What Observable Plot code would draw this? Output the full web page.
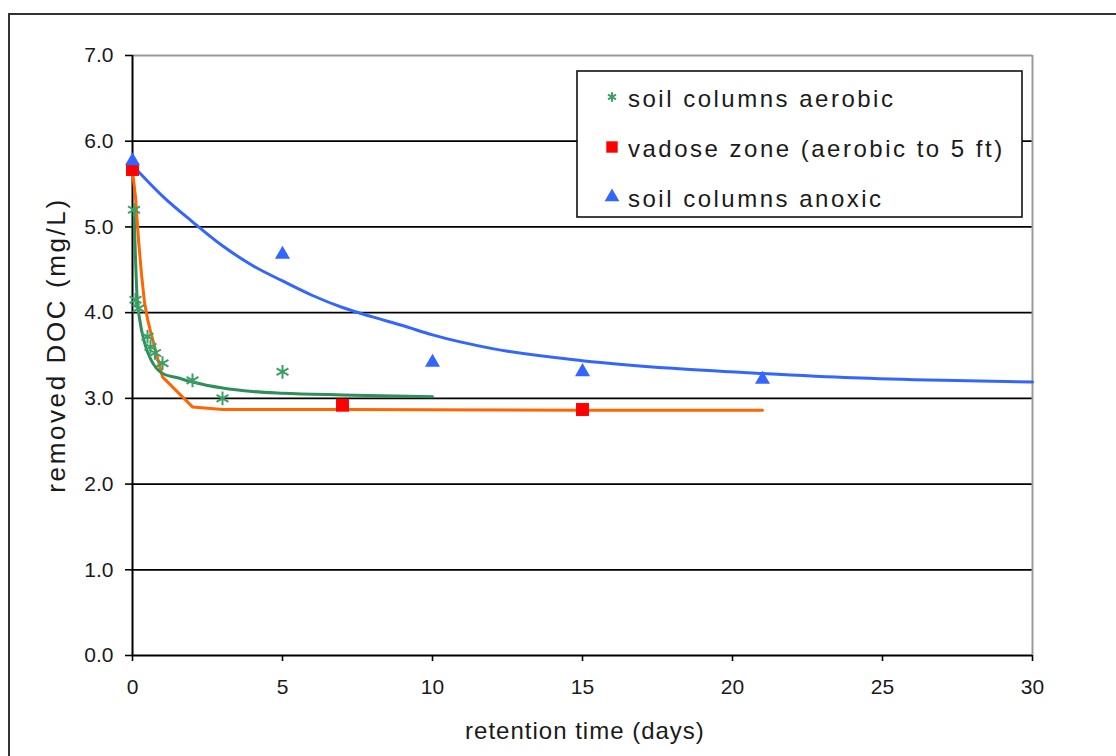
<!DOCTYPE html>
<html>
<head>
<meta charset="utf-8">
<script src="https://cdn.jsdelivr.net/npm/d3@7"></script>
<script src="https://cdn.jsdelivr.net/npm/@observablehq/plot@0.6"></script>
<style>
  html, body { margin: 0; padding: 0; background: #fff; }
  #wrap { position: relative; width: 1116px; height: 756px; overflow: hidden; font-family: "Liberation Sans", Arial, sans-serif; }
  #frame { position: absolute; left: 8px; top: 13px; right: -10px; bottom: -10px; border-top: 2px solid #333; border-left: 2px solid #333; pointer-events: none; }
</style>
</head>
<body>
<div id="wrap"><div id="frame"></div></div>
<script>
// ---- data ----
const xTicks = [0, 5, 10, 15, 20, 25, 30];
const yTicks = [0, 1, 2, 3, 4, 5, 6, 7];
const gridY = [1, 2, 3, 4, 5, 6];

const seriesNames = ["soil columns aerobic", "vadose zone (aerobic to 5 ft)", "soil columns anoxic"];

const aerobicT   = [0.05, 0.1, 0.2, 0.5, 0.6, 0.75, 1, 2, 3, 5];
const aerobicDOC = [5.2, 4.15, 4.05, 3.72, 3.6, 3.53, 3.41, 3.21, 3.0, 3.31];

const vadoseT   = [0, 7, 15];
const vadoseDOC = [5.67, 2.92, 2.87];

const anoxicT   = [0, 5, 10, 15, 21];
const anoxicDOC = [5.77, 4.68, 3.42, 3.31, 3.22];

const aerobicFitT   = [0.05, 0.15, 0.25, 0.4, 0.6, 0.8, 1, 1.5, 2, 3, 4, 5, 7, 10];
const aerobicFitDOC = [5.2, 4.2, 3.9, 3.65, 3.46, 3.35, 3.29, 3.24, 3.19, 3.12, 3.08, 3.06, 3.04, 3.02];

const vadoseFitT   = [0, 0.1, 0.2, 0.3, 0.4, 0.5, 0.6, 0.7, 1, 2, 3, 7, 15, 21];
const vadoseFitDOC = [5.65, 5.35, 4.85, 4.45, 4.12, 3.93, 3.78, 3.65, 3.25, 2.9, 2.87, 2.87, 2.86, 2.86];

const anoxicFitT   = [0, 1, 2, 3, 4, 5, 6, 7, 8, 9, 10, 12, 15, 18, 21, 24, 27, 30];
const anoxicFitDOC = [5.72, 5.36, 5.06, 4.78, 4.55, 4.37, 4.2, 4.06, 3.95, 3.85, 3.74, 3.58, 3.44, 3.35, 3.29, 3.24, 3.21, 3.19];

const xTitle = "retention time (days)";
const yTitle = "removed DOC (mg/L)";

// ---- styles ----
const GREEN_LINE = "#2d8f5a", GREEN_PT = "#3aa066", RED = "#ff0000", ORANGE = "#ff6600", BLUE = "#3366ff";

const zip = (xs, ys) => xs.map((x, i) => ({x, y: ys[i]}));

const chart = Plot.plot({
  width: 1116,
  height: 756,
  marginLeft: 132,
  marginRight: 84,
  marginTop: 55,
  marginBottom: 101,
  x: {domain: [0, 30]},
  y: {domain: [0, 7]},
  style: {fontFamily: "'Liberation Sans', Arial, sans-serif", background: "transparent", overflow: "visible"},
  marks: [
    Plot.ruleY(gridY, {stroke: "#000", strokeWidth: 1.7}),
    Plot.ruleY([7], {stroke: "#9a9a9a", strokeWidth: 2}),
    Plot.ruleX([30], {stroke: "#9a9a9a", strokeWidth: 2}),
    Plot.axisY({ticks: yTicks, tickFormat: d3.format(".1f"), tickSize: 7, tickPadding: 12, fontSize: 21, label: null, stroke: "#000", strokeWidth: 1.6, fill: "#1a1a1a"}),
    Plot.axisX({ticks: xTicks, tickSize: 6, tickPadding: 18, fontSize: 21, label: null, stroke: "#000", strokeWidth: 1.6, fill: "#1a1a1a"}),
    Plot.ruleX([0], {stroke: "#000", strokeWidth: 2}),
    Plot.ruleY([0], {stroke: "#000", strokeWidth: 2}),
    Plot.line(zip(anoxicFitT, anoxicFitDOC), {x: "x", y: "y", stroke: BLUE, strokeWidth: 3, curve: "monotone-x"}),
    Plot.line(zip(vadoseFitT, vadoseFitDOC), {x: "x", y: "y", stroke: ORANGE, strokeWidth: 3, curve: "linear"}),
    Plot.line(zip(aerobicFitT, aerobicFitDOC), {x: "x", y: "y", stroke: GREEN_LINE, strokeWidth: 3, curve: "monotone-x"}),
    Plot.dot(zip(aerobicT, aerobicDOC), {x: "x", y: "y", symbol: "asterisk", stroke: GREEN_PT, strokeWidth: 2, r: 6.5}),
    Plot.dot(zip(vadoseT, vadoseDOC), {x: "x", y: "y", symbol: "square", fill: RED, r: 7.3}),
    Plot.dot(zip(anoxicT, anoxicDOC), {x: "x", y: "y", symbol: "triangle", fill: BLUE, r: 5.6})
  ]
});

const wrap = document.getElementById("wrap");
chart.style.position = "absolute";
chart.style.left = "0px";
chart.style.top = "0px";
wrap.insertBefore(chart, wrap.firstChild);

// axis titles
const svg = d3.select(chart);
svg.append("text")
  .attr("x", 585).attr("y", 739)
  .attr("text-anchor", "middle")
  .attr("font-size", 24).attr("letter-spacing", "1px").attr("fill", "#1a1a1a")
  .text(xTitle);
svg.append("text")
  .attr("transform", "translate(65,345) rotate(-90)")
  .attr("text-anchor", "middle")
  .attr("font-size", 26).attr("letter-spacing", "2.6px").attr("fill", "#1a1a1a")
  .text(yTitle);

// legend
const lg = d3.select("#wrap").append("svg")
  .attr("width", 448).attr("height", 150)
  .style("position", "absolute").style("left", "576px").style("top", "70px");
lg.append("rect").attr("x", 1).attr("y", 1).attr("width", 445).attr("height", 146).attr("fill", "#fff").attr("stroke", "#111").attr("stroke-width", 1.6);
const legendItems = [
  {name: seriesNames[0], sym: d3.symbolAsterisk, size: 60, fill: "none", stroke: GREEN_PT},
  {name: seriesNames[1], sym: d3.symbolSquare, size: 130, fill: RED, stroke: "none"},
  {name: seriesNames[2], sym: d3.symbolTriangle, size: 95, fill: BLUE, stroke: "none"}
];
legendItems.forEach((d, i) => {
  const cy = 27 + i * 50;
  lg.append("path").attr("transform", `translate(36,${cy})`)
    .attr("d", d3.symbol(d.sym, d.size)()).attr("fill", d.fill).attr("stroke", d.stroke).attr("stroke-width", 2);
  lg.append("text").attr("x", 52).attr("y", cy + 10)
    .attr("font-family", "'Liberation Sans', Arial, sans-serif")
    .attr("font-size", 24).attr("letter-spacing", "2.5px").attr("fill", "#1a1a1a")
    .text(d.name);
});
</script>
</body>
</html>
